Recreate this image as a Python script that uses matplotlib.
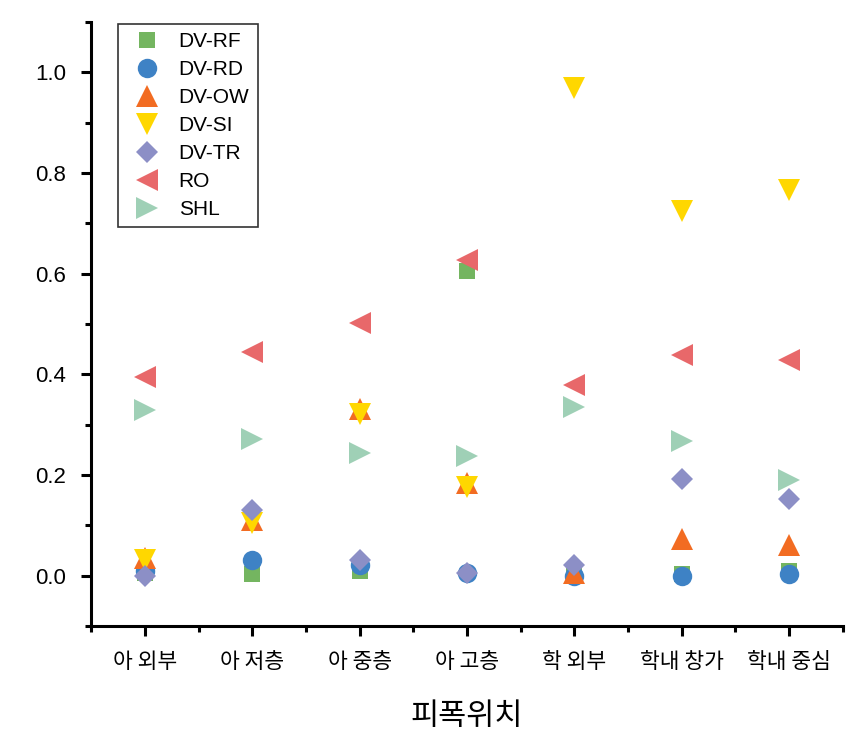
import matplotlib
matplotlib.use('Agg')
import matplotlib.pyplot as plt
from matplotlib.ticker import MultipleLocator

plt.rcParams['font.family'] = ['Liberation Sans', 'Noto Sans CJK KR']

# 피폭위치 (x categories)
categories = ['아 외부', '아 저층', '아 중층', '아 고층', '학 외부', '학내 창가', '학내 중심']

dv_rf = [0.005, 0.003, 0.010, 0.606, 0.005, 0.003, 0.010]
dv_rd = [0.010, 0.030, 0.020, 0.005, 0.000, 0.000, 0.004]
dv_ow = [0.035, 0.110, 0.330, 0.183, 0.005, 0.072, 0.060]
dv_si = [0.030, 0.105, 0.320, 0.175, 0.968, 0.725, 0.767]
dv_tr = [0.000, 0.130, 0.030, 0.006, 0.020, 0.191, 0.153]
ro = [0.394, 0.444, 0.502, 0.627, 0.378, 0.438, 0.428]
shl = [0.329, 0.271, 0.243, 0.237, 0.335, 0.267, 0.190]

series = [
    ('DV-RF', dv_rf, 's', '#74b560', 12),
    ('DV-RD', dv_rd, 'o', '#3e82c5', 14),
    ('DV-OW', dv_ow, '^', '#f26c22', 16),
    ('DV-SI', dv_si, 'v', '#ffd700', 16),
    ('DV-TR', dv_tr, 'D', '#8c8fc6', 11.5),
    ('RO', ro, '<', '#e8686a', 16),
    ('SHL', shl, '>', '#9fd0b6', 16),
]

fig = plt.figure(figsize=(8.6, 7.32), dpi=100)
ax = fig.add_axes([0.106, 0.145, 0.874, 0.825])

x = list(range(1, len(categories) + 1))
for label, vals, mk, col, ms in series:
    ax.plot(x, vals, linestyle='none', marker=mk, color=col, markersize=ms,
            markeredgewidth=0, label=label)

ax.set_xlim(0.5, 7.5)
ax.set_ylim(-0.1, 1.1)
ax.set_xticks(x)
ax.set_xticklabels(categories, family=['Noto Sans CJK KR'], fontsize=15.5)
ax.set_xticks([v + 0.5 for v in range(0, 8)], minor=True)
ax.yaxis.set_minor_locator(MultipleLocator(0.1))
ax.set_yticks([0.0, 0.2, 0.4, 0.6, 0.8, 1.0])
ax.set_yticklabels(['0.0', '0.2', '0.4', '0.6', '0.8', '1.0'], fontsize=16)

ax.spines['top'].set_visible(False)
ax.spines['right'].set_visible(False)
for s in ['left', 'bottom']:
    ax.spines[s].set_linewidth(2.2)
ax.tick_params(which='major', direction='out', length=7, width=2.2)
ax.tick_params(axis='x', which='major', pad=11)
ax.tick_params(axis='y', which='major', pad=11)
ax.tick_params(which='minor', direction='out', length=4, width=2.2)

ax.set_xlabel('피폭위치', family=['Noto Sans CJK KR'], fontsize=22, labelpad=20)

leg = ax.legend(loc='upper left', bbox_to_anchor=(0.036, 0.997), fontsize=15,
                frameon=True, fancybox=False, edgecolor='black', borderpad=0.4,
                labelspacing=0.43, handletextpad=0.5, borderaxespad=0.0)
leg.get_frame().set_linewidth(1.2)

plt.savefig('out.png', dpi=100)
plt.close()
